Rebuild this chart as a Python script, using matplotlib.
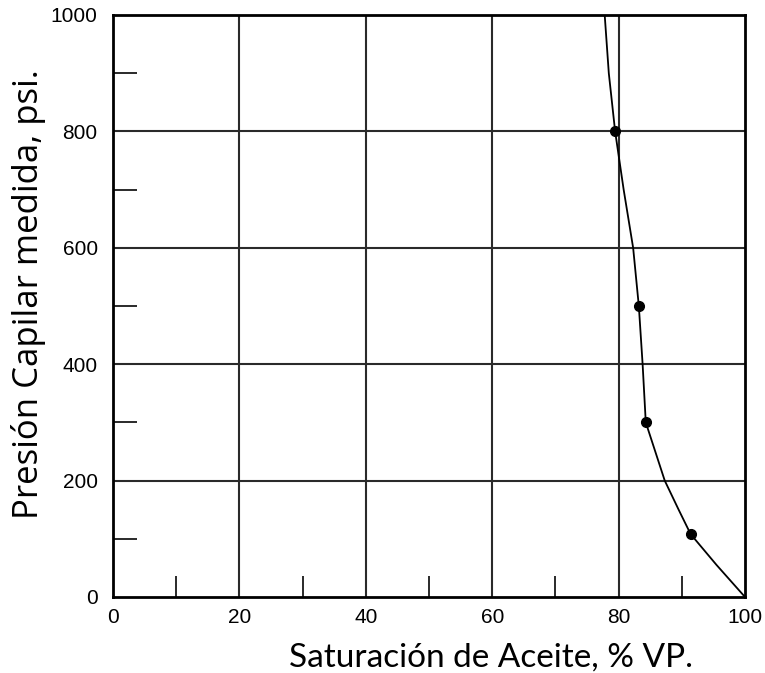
import numpy as np
import matplotlib.pyplot as plt

sat_curve = [77.8, 78.45, 79.45, 80.8, 82.3, 83.2, 83.8, 84.3, 85.8, 87.3, 89.5, 91.4, 95.5, 100.0]
pc_curve = [1000, 900, 800, 700, 600, 500, 400, 300, 250, 200, 150, 108, 55, 0]

sat_points = [79.45, 83.2, 84.3, 91.4]
pc_points = [800, 500, 300, 108]

x_major = [0, 20, 40, 60, 80, 100]
y_major = [0, 200, 400, 600, 800, 1000]
x_minor = [10, 30, 50, 70, 90]
y_minor = [100, 300, 500, 700, 900]

fig = plt.figure(figsize=(7.65, 6.73), dpi=100)
ax = fig.add_axes([113 / 765, 1 - 597 / 673, 632 / 765, 582 / 673])

# grid lines
for x in x_major[1:-1]:
    ax.axvline(x, color='#2a2a2a', lw=1.5, zorder=1)
for y in y_major[1:-1]:
    ax.axhline(y, color='#2a2a2a', lw=1.5, zorder=1)

ax.plot(sat_curve, pc_curve, color='black', lw=1.3, zorder=3)
ax.plot(sat_points, pc_points, 'o', color='black', ms=7, zorder=4)

ax.set_xlim(0, 100)
ax.set_ylim(0, 1000)
ax.set_xticks(x_major)
ax.set_yticks(y_major)
ax.set_xticks(x_minor, minor=True)
ax.set_yticks(y_minor, minor=True)
ax.tick_params(which='major', length=0, pad=8, labelsize=15, labelfontfamily='Liberation Sans')
ax.tick_params(axis='y', which='major', pad=11)
ax.tick_params(axis='x', which='minor', direction='in', length=15, width=1.4, color='#2a2a2a')
ax.tick_params(axis='y', which='minor', direction='in', length=17, width=1.4, color='#2a2a2a')

for s in ax.spines.values():
    s.set_linewidth(2)
    s.set_color('black')

fig.text(491 / 765, 1 - 667 / 673, 'Saturación de Aceite, % VP.', ha='center', va='baseline',
         fontsize=24, family='Lato')
fig.text(38 / 765, 1 - 294 / 673, 'Presión Capilar medida, psi.', ha='center', va='baseline',
         fontsize=25, family='Open Sans', rotation=90, rotation_mode='anchor')

fig.savefig('out.png', dpi=100)
